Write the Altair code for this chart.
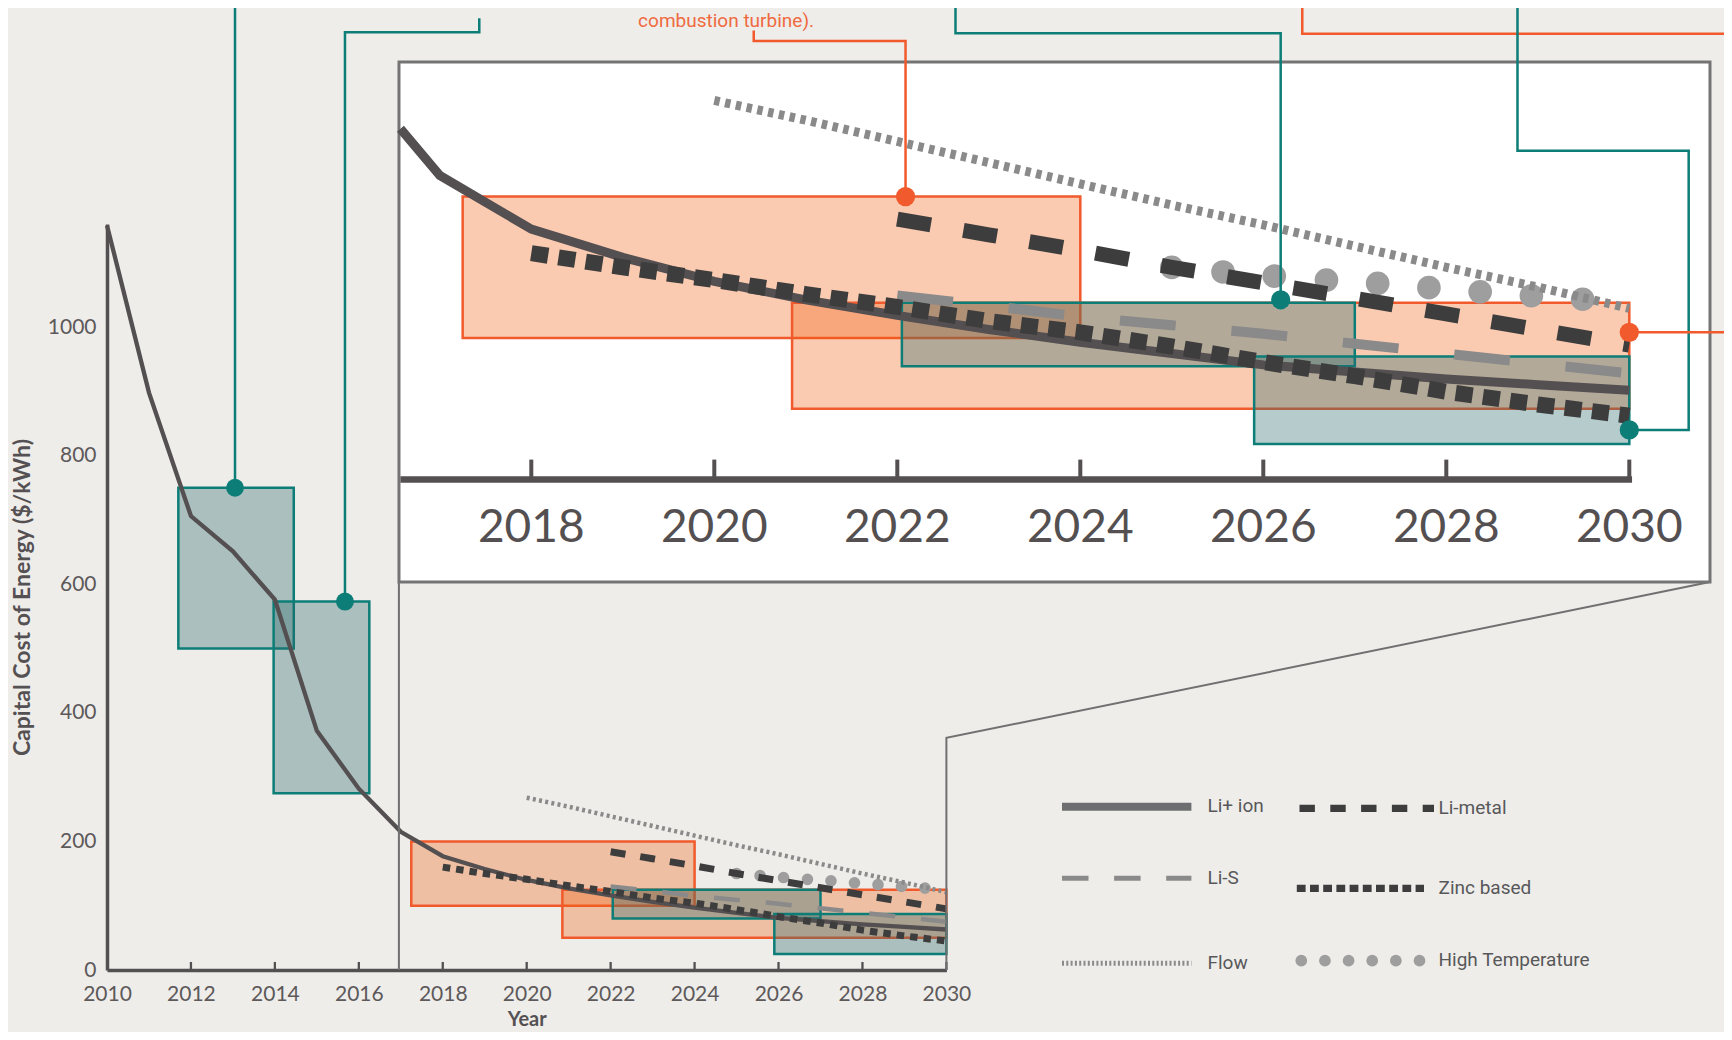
import altair as alt
import pandas as pd

# ---------------- data ----------------
li_ion_years = list(range(2010, 2031))
li_ion_cost = [1158, 898, 706, 651, 576, 372, 282, 215, 177, 157, 140, 127, 116,
               106, 97, 89, 81, 76, 71, 67, 63]
li_ion_inset_entry_year = 2016.57   # where the Li+ ion curve enters the zoom panel
li_ion_inset_entry_cost = 248

zinc_years = list(range(2018, 2031))
zinc_cost = [160, 150, 141, 131, 122, 112, 104, 94, 83, 73, 62, 53, 45]

li_metal_years = list(range(2022, 2031))
li_metal_cost = [184, 173, 162, 150, 139, 128, 117, 106, 95]

li_s_years = list(range(2022, 2031))
li_s_cost = [130, 123, 115, 109, 103, 96, 89, 82, 75]

flow_years = list(range(2020, 2031))
flow_cost = [268, 254, 239, 224, 209, 194, 180, 165, 150, 136, 121]

high_temp_years = [2025.0, 2025.56, 2026.12, 2026.69, 2027.25, 2027.81, 2028.37, 2028.93, 2029.49]
high_temp_cost = [150, 146.7, 143.8, 141, 138.7, 135.6, 132.7, 129.9, 127.4]

orange_start = [2017.25, 2020.85]
orange_end = [2024.0, 2030.0]
orange_low = [100, 50]
orange_high = [200, 125]

teal_start = [2011.7, 2013.97, 2022.05, 2025.9]
teal_end = [2014.45, 2016.25, 2027.0, 2030.0]
teal_low = [500, 275, 80, 25]
teal_high = [750, 573, 125, 87]

teal_marker_year = [2013.05, 2015.67]
teal_marker_cost = [750, 573]
inset_marker_year = [2022.09, 2026.19, 2030.0, 2030.0]
inset_marker_cost = [200, 127, 104, 35]
inset_marker_kind = ["orange", "teal", "orange", "teal"]

main_x_labels = list(range(2010, 2031, 2))
main_y_labels = [0, 200, 400, 600, 800, 1000]
inset_x_labels = list(range(2018, 2031, 2))

series_names = ["Li+ ion", "Li-metal", "Li-S", "Zinc based", "Flow", "High Temperature"]
annotation_text = "combustion turbine)."

# ---------------- colours & styles ----------------
BG = "#eeedea"
TEAL = "#0c7d77"
ORANGE = "#f15a2c"
DARK = "#544f51"
BLACKISH = "#3d3d3d"
MID = "#8a8a8a"
LIGHT = "#9e9e9e"
FONT = "Lato"
NARROW = "Roboto"

# ---------------- layout (pixels of plot area) ----------------
W, H = 1617, 962
MX = alt.Scale(domain=[2010, 2030], range=[0, 20 * 41.97], nice=False, zero=False)
MY = alt.Scale(domain=[0, 1160], range=[H, H - 1160 * 0.643], nice=False, zero=False)
IX = alt.Scale(domain=[2018, 2030], range=[424.3, 1522.3], nice=False, zero=False)
IY = alt.Scale(domain=[0, 200], range=[471.4, 188.6], nice=False, zero=False)
LX = alt.Scale(domain=[0, W], range=[0, W], nice=False, zero=False)
LY = alt.Scale(domain=[0, H], range=[0, H], nice=False, zero=False)


def xq(f, s):
    return alt.X(f"{f}:Q", scale=s, axis=None)


def yq(f, s):
    return alt.Y(f"{f}:Q", scale=s, axis=None)


def series_df(years, costs):
    return pd.DataFrame({"year": years, "cost": costs})


rect_orange = pd.DataFrame({"x0": orange_start, "x1": orange_end, "y0": orange_low, "y1": orange_high})
rect_teal = pd.DataFrame({"x0": teal_start, "x1": teal_end, "y0": teal_low, "y1": teal_high})

li_df = series_df(li_ion_years, li_ion_cost)
zinc_df = series_df(zinc_years, zinc_cost)
metal_df = series_df(li_metal_years, li_metal_cost)
lis_df = series_df(li_s_years, li_s_cost)
flow_df = series_df(flow_years, flow_cost)
ht_df = series_df(high_temp_years, high_temp_cost)
li_inset_df = pd.concat([
    series_df([li_ion_inset_entry_year], [li_ion_inset_entry_cost]),
    li_df[li_df.year >= 2017]], ignore_index=True)

main_style = {
    "Li+ ion": dict(color=DARK, w=4.3, dash=None),
    "Li-metal": dict(color=BLACKISH, w=7, dash=[15, 15]),
    "Li-S": dict(color=MID, w=4.5, dash=[26, 26]),
    "Zinc based": dict(color=BLACKISH, w=7, dash=[7.5, 6]),
    "Flow": dict(color=MID, w=4.5, dash=[3, 3.3]),
}
inset_style = {
    "Li+ ion": dict(color=DARK, w=9, dash=None),
    "Li-metal": dict(color=BLACKISH, w=15, dash=[34, 33]),
    "Li-S": dict(color=MID, w=10, dash=[56, 56]),
    "Zinc based": dict(color=BLACKISH, w=16, dash=[17, 10.5]),
    "Flow": dict(color=MID, w=9, dash=[5.5, 5.5]),
}


def line_layer(df, style, sx, sy):
    kw = dict(color=style["color"], strokeWidth=style["w"], strokeCap="butt")
    if style["dash"]:
        kw["strokeDash"] = style["dash"]
    return alt.Chart(df).mark_line(**kw).encode(x=xq("year", sx), y=yq("cost", sy))


def rect_layer(df, fill, fop, stroke, sx, sy):
    return alt.Chart(df).mark_rect(fill=fill, fillOpacity=fop, stroke=stroke, strokeWidth=2.5).encode(
        x=xq("x0", sx), x2="x1:Q", y=yq("y0", sy), y2="y1:Q")


layers = []

# ---------- main chart ----------
layers.append(rect_layer(rect_orange, "#f25d0b", 0.32, ORANGE, MX, MY))
layers.append(rect_layer(rect_teal, "#2c6a6d", 0.35, TEAL, MX, MY))
layers.append(line_layer(lis_df, main_style["Li-S"], MX, MY))
layers.append(
    alt.Chart(li_df).mark_line(color=DARK, strokeWidth=4.3).encode(
        x=alt.X("year:Q", scale=MX, axis=alt.Axis(
            values=main_x_labels, format="d", ticks=False, tickSize=0, grid=False,
            domainColor=DARK, domainWidth=3.5, labelFont=FONT, labelFontSize=21,
            labelColor="#5d595a", labelPadding=13, labelFlush=False,
            title="Year", titleFont=FONT, titleFontSize=20, titleFontWeight="bold",
            titleColor="#555153", titlePadding=5)),
        y=alt.Y("cost:Q", scale=MY, axis=alt.Axis(
            values=main_y_labels, format="d", ticks=False, tickSize=0, grid=False,
            domainColor=DARK, domainWidth=3.5, labelFont=FONT, labelFontSize=21,
            labelColor="#5d595a", labelPadding=11,
            title="Capital Cost of Energy ($/kWh)", titleFont=FONT, titleFontSize=23,
            titleFontWeight="bold", titleColor="#555153", titlePadding=13))))
layers.append(line_layer(zinc_df, main_style["Zinc based"], MX, MY))
layers.append(alt.Chart(ht_df).mark_circle(color=LIGHT, opacity=1, size=135).encode(
    x=xq("year", MX), y=yq("cost", MY)))
layers.append(line_layer(flow_df, main_style["Flow"], MX, MY))
layers.append(line_layer(metal_df, main_style["Li-metal"], MX, MY))

# main x ticks (pointing up into the plot)
main_ticks = pd.DataFrame({"year": main_x_labels[1:], "y0": 0, "y1": 12.5})
layers.append(alt.Chart(main_ticks).mark_rule(color=DARK, strokeWidth=2.3).encode(
    x=xq("year", MX), y=yq("y0", MY), y2="y1:Q"))

# connectors from zoom region to the panel
conn = pd.DataFrame({
    "id": [0, 0, 1, 1, 1],
    "seq": [0, 1, 0, 1, 2],
    "x": [2016.955, 2016.955, 2030, 2030, 2048.19],
    "y": [0, 603.4, 0, 361, 603.4],
})
layers.append(alt.Chart(conn).mark_line(color="#707070", strokeWidth=2).encode(
    x=xq("x", MX), y=yq("y", MY), detail="id:N", order="seq:Q"))

# ---------- zoom panel ----------
panel = pd.DataFrame({"x0": [2016.554], "x1": [2030.882], "y0": [-72.6], "y1": [295.2]})
layers.append(alt.Chart(panel).mark_rect(fill="white", stroke="#747474", strokeWidth=3).encode(
    x=xq("x0", IX), x2="x1:Q", y=yq("y0", IY), y2="y1:Q"))

layers.append(rect_layer(rect_orange, "#f25d0b", 0.32, ORANGE, IX, IY))
layers.append(rect_layer(rect_teal[rect_teal.x0 > 2017], "#2c6a6d", 0.35, TEAL, IX, IY))
layers.append(line_layer(lis_df, inset_style["Li-S"], IX, IY))
layers.append(line_layer(li_inset_df, inset_style["Li+ ion"], IX, IY))
layers.append(line_layer(zinc_df, inset_style["Zinc based"], IX, IY))
layers.append(alt.Chart(ht_df).mark_circle(color=LIGHT, opacity=1, size=560).encode(
    x=xq("year", IX), y=yq("cost", IY)))
layers.append(line_layer(flow_df, inset_style["Flow"], IX, IY))
layers.append(line_layer(metal_df, inset_style["Li-metal"], IX, IY))

# panel axis
axis_line = pd.DataFrame({"x0": [2016.57], "x1": [2030.03], "y": [0]})
layers.append(alt.Chart(axis_line).mark_rule(color=DARK, strokeWidth=6.5).encode(
    x=xq("x0", IX), x2="x1:Q", y=yq("y", IY)))
inset_ticks = pd.DataFrame({"year": inset_x_labels, "y0": 0, "y1": 14})
layers.append(alt.Chart(inset_ticks).mark_rule(color=DARK, strokeWidth=4).encode(
    x=xq("year", IX), y=yq("y0", IY), y2="y1:Q"))
inset_lab = pd.DataFrame({"year": inset_x_labels, "y": -34.4, "t": [str(v) for v in inset_x_labels]})
layers.append(alt.Chart(inset_lab).mark_text(font=FONT, fontSize=46, color="#545051",
                                             align="center", baseline="middle").encode(
    x=xq("year", IX), y=yq("y", IY), text="t:N"))

# ---------- leader lines ----------
lead_main = pd.DataFrame({
    "id": [0, 0, 1, 1, 1, 1],
    "seq": [0, 1, 0, 1, 2, 3],
    "x": [2013.05, 2013.05, 2018.87, 2018.87, 2015.67, 2015.67],
    "y": [1520, 750, 1480, 1458.3, 1458.3, 573],
    "c": [TEAL] * 6,
})
layers.append(alt.Chart(lead_main).mark_line(strokeWidth=2.5, strokeJoin="miter").encode(
    x=xq("x", MX), y=yq("y", MY), detail="id:N", order="seq:Q",
    color=alt.Color("c:N", scale=None)))

lead_inset = pd.DataFrame({
    "id": [3] * 4 + [4] * 4 + [5] * 3 + [6] * 5 + [7] * 2,
    "seq": [0, 1, 2, 3] + [0, 1, 2, 3] + [0, 1, 2] + [0, 1, 2, 3, 4] + [0, 1],
    "x": [2020.431, 2020.431, 2022.09, 2022.09,
          2022.636, 2022.636, 2026.19, 2026.19,
          2026.426, 2026.426, 2031.21,
          2028.778, 2028.778, 2030.649, 2030.649, 2030.0,
          2030.0, 2031.21],
    "y": [317.5, 310.0, 310.0, 200,
          346, 315.5, 315.5, 127,
          346, 315.2, 315.2,
          346, 232.5, 232.5, 34.9, 35,
          104, 104],
    "c": [ORANGE] * 4 + [TEAL] * 4 + [ORANGE] * 3 + [TEAL] * 5 + [ORANGE] * 2,
})
layers.append(alt.Chart(lead_inset).mark_line(strokeWidth=2.5, strokeJoin="miter").encode(
    x=xq("x", IX), y=yq("y", IY), detail="id:N", order="seq:Q",
    color=alt.Color("c:N", scale=None)))

# markers
layers.append(alt.Chart(series_df(teal_marker_year, teal_marker_cost)).mark_circle(
    color=TEAL, opacity=1, size=320).encode(x=xq("year", MX), y=yq("cost", MY)))
mk = pd.DataFrame({"year": inset_marker_year, "cost": inset_marker_cost,
                   "c": [TEAL if k == "teal" else ORANGE for k in inset_marker_kind]})
layers.append(alt.Chart(mk).mark_circle(opacity=1, size=370).encode(
    x=xq("year", IX), y=yq("cost", IY), color=alt.Color("c:N", scale=None)))

# annotation text at the top (its upper lines lie outside the picture)
ann = pd.DataFrame({"x": [2024.75], "y": [1467], "t": [annotation_text]})
layers.append(alt.Chart(ann).mark_text(font=NARROW, fontSize=19, color="#f06a40",
                                       align="center", baseline="alphabetic").encode(
    x=xq("x", MX), y=yq("y", MY), text="t:N"))

# ---------- legend (built from the series list) ----------
leg_col = [0, 1, 0, 1, 0, 1]
sym_x0 = {0: 955, 1: 1192.5}
sym_len = {"Li+ ion": 129.4, "Li-metal": 134.5, "Li-S": 129.4, "Zinc based": 127.2, "Flow": 129.4}
sym_y = {"Li+ ion": 798.7, "Li-metal": 800.3, "Li-S": 870.3, "Zinc based": 880.3,
         "Flow": 955.3, "High Temperature": 952.7}
sym_shift = {"Zinc based": -2.7}
label_x = {0: 1100.5, 1: 1331.5}
legend_style = {
    "Li+ ion": dict(color="#6d6e6f", w=8, dash=None),
    "Li-metal": dict(color=BLACKISH, w=7.3, dash=[15.4, 15.4]),
    "Li-S": dict(color=MID, w=5, dash=[26.5, 25.6]),
    "Zinc based": dict(color=BLACKISH, w=7.3, dash=[8.8, 4.4]),
    "Flow": dict(color=MID, w=5, dash=[2, 2.3]),
}
for name, col in zip(series_names, leg_col):
    if name in legend_style:
        st = legend_style[name]
        x0 = sym_x0[col] + sym_shift.get(name, 0)
        d = pd.DataFrame({"x0": [x0], "x1": [x0 + sym_len[name]], "y": [sym_y[name]]})
        kw = dict(color=st["color"], strokeWidth=st["w"], strokeCap="butt")
        if st["dash"]:
            kw["strokeDash"] = st["dash"]
        layers.append(alt.Chart(d).mark_rule(**kw).encode(
            x=xq("x0", LX), x2="x1:Q", y=yq("y", LY)))
    else:
        d = pd.DataFrame({"x": [sym_x0[col] + 1.8 + 23.64 * i for i in range(6)],
                          "y": [sym_y[name]] * 6})
        layers.append(alt.Chart(d).mark_circle(color=LIGHT, opacity=1, size=137).encode(
            x=xq("x", LX), y=yq("y", LY)))

leg_lab = pd.DataFrame({
    "x": [label_x[c] for c in leg_col],
    "y": [sym_y[n] - 0.8 for n in series_names],
    "t": series_names,
})
layers.append(alt.Chart(leg_lab).mark_text(font=NARROW, fontSize=19, color="#58585a",
                                           align="left", baseline="middle").encode(
    x=xq("x", LX), y=yq("y", LY), text="t:N"))

chart = alt.layer(*layers).resolve_scale(x="independent", y="independent").properties(
    width=W, height=H,
    padding={"left": 99, "top": 0, "right": 0, "bottom": 62},
    autosize=alt.AutoSizeParams(type="none"),
    background=BG,
).configure_view(stroke=None)

chart.save("out.html", embed_options={"renderer": "svg", "actions": False})
